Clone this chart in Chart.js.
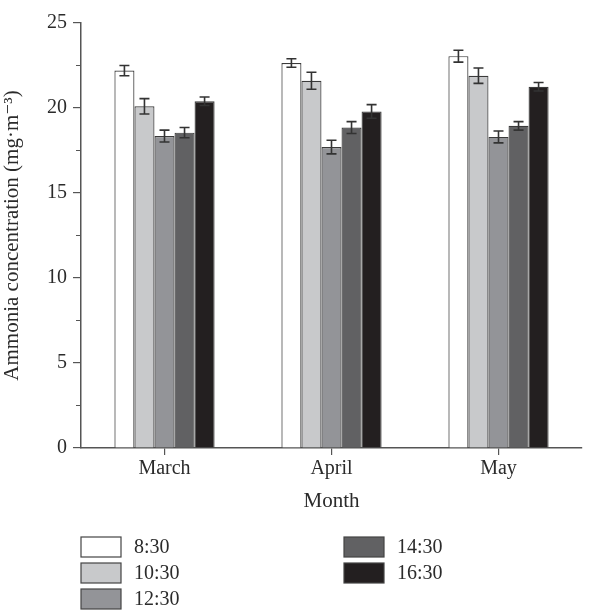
<!DOCTYPE html>
<html>
<head>
<meta charset="utf-8">
<script src="https://cdn.jsdelivr.net/npm/chart.js@4.4.0/dist/chart.umd.min.js"></script>
<style>
  html, body { margin: 0; padding: 0; background: #fff; }
  #wrap { width: 606px; height: 610px; position: relative; }
</style>
</head>
<body>
<div id="wrap"><canvas id="chart"></canvas></div>
<script>
// Data
const months = ['March', 'April', 'May'];
const times = ['8:30', '10:30', '12:30', '14:30', '16:30'];
const v0830 = [22.2, 22.65, 23.05];
const v1030 = [20.1, 21.6, 21.9];
const v1230 = [18.35, 17.7, 18.3];
const v1430 = [18.55, 18.85, 18.95];
const v1630 = [20.4, 19.8, 21.25];
const e0830 = [0.3, 0.25, 0.35];
const e1030 = [0.45, 0.5, 0.45];
const e1230 = [0.35, 0.4, 0.35];
const e1430 = [0.3, 0.35, 0.25];
const e1630 = [0.25, 0.4, 0.25];
const yTicks = [0, 5, 10, 15, 20, 25];

const fills = ['#ffffff', '#c8c9cb', '#939498', '#616163', '#231f20'];
const values = [v0830, v1030, v1230, v1430, v1630];
const errors = [e0830, e1030, e1230, e1430, e1630];
const serif = "'Liberation Serif', 'DejaVu Serif', serif";
const ink = '#2b2b2b';

Chart.defaults.font.family = serif;
Chart.defaults.color = ink;

const errorBars = {
    id: 'errorBars',
    afterDatasetsDraw(chart) {
        const ctx = chart.ctx;
        const y = chart.scales.y;
        ctx.save();
        ctx.strokeStyle = '#333';
        ctx.lineWidth = 1.6;
        chart.data.datasets.forEach((ds, i) => {
            const meta = chart.getDatasetMeta(i);
            meta.data.forEach((bar, j) => {
                const v = ds.data[j], e = ds.errors[j];
                const top = y.getPixelForValue(v + e);
                const bot = y.getPixelForValue(v - e);
                const x = bar.x;
                ctx.beginPath();
                ctx.moveTo(x, top); ctx.lineTo(x, bot);
                ctx.moveTo(x - 5, top); ctx.lineTo(x + 5, top);
                ctx.moveTo(x - 5, bot); ctx.lineTo(x + 5, bot);
                ctx.stroke();
            });
        });
        ctx.restore();
    }
};

const minorTicks = {
    id: 'minorTicks',
    afterDraw(chart) {
        const ctx = chart.ctx;
        const y = chart.scales.y;
        const x0 = chart.chartArea.left;
        ctx.save();
        ctx.strokeStyle = '#555';
        ctx.lineWidth = 1;
        for (let i = 0; i < yTicks.length - 1; i++) {
            const p = y.getPixelForValue((yTicks[i] + yTicks[i + 1]) / 2);
            ctx.beginPath();
            ctx.moveTo(x0 - 5, p); ctx.lineTo(x0, p);
            ctx.stroke();
        }
        ctx.restore();
    }
};

// legend drawn in two columns, filled top-to-bottom
const columnLegend = {
    id: 'columnLegend',
    afterDraw(chart) {
        const ctx = chart.ctx;
        ctx.save();
        ctx.font = '20px ' + serif;
        ctx.textBaseline = 'middle';
        chart.data.datasets.forEach((ds, i) => {
            const col = Math.floor(i / 3), row = i % 3;
            const bx = 81 + col * 263, by = 537 + row * 26;
            ctx.fillStyle = ds.backgroundColor;
            ctx.fillRect(bx, by, 40, 20);
            ctx.strokeStyle = '#444';
            ctx.lineWidth = 1.2;
            ctx.strokeRect(bx, by, 40, 20);
            ctx.fillStyle = ink;
            ctx.fillText(ds.label, bx + 53, by + 11);
        });
        ctx.restore();
    }
};

new Chart(document.getElementById('chart'), {
    type: 'bar',
    data: {
        labels: months,
        datasets: times.map((t, i) => ({
            label: t,
            data: values[i],
            errors: errors[i],
            backgroundColor: fills[i],
            borderColor: '#3a3a3a',
            borderWidth: 1.2,
            borderSkipped: 'bottom',
            categoryPercentage: 0.6,
            barPercentage: 1.0
        }))
    },
    options: {
        responsive: true,
        maintainAspectRatio: false,
        animation: false,
        layout: { padding: { top: 23, right: 24, bottom: 92, left: 0 } },
        plugins: {
            legend: { display: false },
            tooltip: { enabled: false }
        },
        scales: {
            x: {
                grid: { drawOnChartArea: false, offset: false, tickLength: 7, color: '#555', lineWidth: 1.2 },
                border: { color: '#555', width: 1.5 },
                ticks: { font: { size: 20 }, color: ink, padding: 2 },
                title: { display: true, text: 'Month', font: { size: 21 }, color: ink, padding: { top: 2 } },
                afterFit: s => { s.height = 70; }
            },
            y: {
                min: 0,
                max: 25,
                afterBuildTicks: s => { s.ticks = yTicks.map(v => ({ value: v })); },
                grid: { drawOnChartArea: false, tickLength: 8, color: '#555', lineWidth: 1.2 },
                border: { color: '#555', width: 1.5 },
                ticks: { font: { size: 20 }, color: ink, padding: 6 },
                title: { display: true, text: 'Ammonia concentration (mg·m⁻³)', font: { size: 21 }, color: ink, padding: { bottom: 0, top: 0 } },
                afterFit: s => { s.width = 81; }
            }
        }
    },
    plugins: [errorBars, minorTicks, columnLegend]
});
</script>
</body>
</html>
